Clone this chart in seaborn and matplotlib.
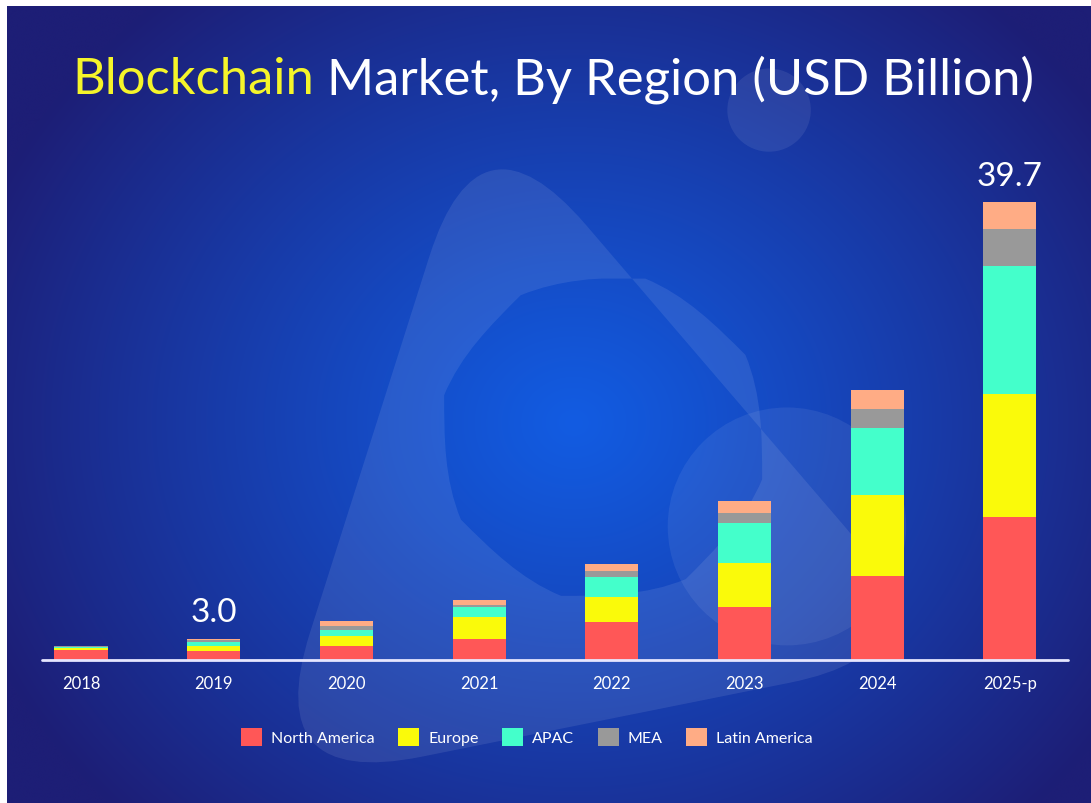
import numpy as np
import pandas as pd
import matplotlib
matplotlib.use("Agg")
import matplotlib.pyplot as plt
import seaborn as sns
from matplotlib.patches import Patch, PathPatch, Circle
from matplotlib.path import Path

# Data (USD billion)
years = ['2018', '2019', '2020', '2021', '2022', '2023', '2024', '2025-p']
north_america = [0.86, 0.75, 1.13, 1.80, 3.23, 4.56, 7.22, 12.35]
europe = [0.15, 0.40, 0.90, 1.88, 2.17, 3.85, 7.06, 10.74]
apac = [0.10, 0.40, 0.49, 0.87, 1.74, 3.47, 5.79, 11.05]
mea = [0.05, 0.10, 0.43, 0.20, 0.52, 0.82, 1.68, 3.25]
latin_america = [0.05, 0.17, 0.38, 0.43, 0.66, 1.07, 1.62, 2.31]
regions = ['North America', 'Europe', 'APAC', 'MEA', 'Latin America']
callouts = {'2019': '3.0', '2025-p': '39.7'}

colors = {'North America': '#ff5757', 'Europe': '#fafa0a', 'APAC': '#44ffcb',
          'MEA': '#999999', 'Latin America': '#ffac85'}

W, H = 1091, 804
sns.set_style('white')
plt.rcParams['font.family'] = ['Lato', 'DejaVu Sans']

fig = plt.figure(figsize=(W / 100, H / 100), dpi=100, facecolor='white')

## Background: radial blue gradient with soft decorative shapes
bg = fig.add_axes([7 / W, 0, 1 - 7 / W, 1 - 7 / H], zorder=0)
xx, yy = np.meshgrid(np.arange(W), np.arange(H))
d = np.sqrt(((xx - 570) / 640) ** 2 + ((yy - 420) / 560) ** 2)
t = np.clip(d, 0, 1) ** 1.1
center = np.array([0x12, 0x5c, 0xe2]) / 255
edge = np.array([0x1d, 0x1e, 0x76]) / 255
img = center * (1 - t[..., None]) + edge * t[..., None]
bg.imshow(img, extent=(0, W, H, 0), aspect='auto')
bg.set_xlim(0, W)
bg.set_ylim(H, 0)
bg.axis('off')


def rounded_poly(pts, r):
    pts = np.asarray(pts, float)
    n = len(pts)
    verts, codes = [], []
    for i in range(n):
        p0, p1, p2 = pts[i - 1], pts[i], pts[(i + 1) % n]
        a = p1 + (p0 - p1) / np.linalg.norm(p0 - p1) * r
        b = p1 + (p2 - p1) / np.linalg.norm(p2 - p1) * r
        verts += [a, p1, b]
        codes += [Path.MOVETO if i == 0 else Path.LINETO, Path.CURVE3, Path.CURVE3]
    verts.append(verts[0])
    codes.append(Path.CLOSEPOLY)
    return verts, codes


tv, tc = rounded_poly([(475, 95), (950, 650), (255, 790)], 165)
circ = Path.circle((600, 435), 160)
hole_v = circ.vertices[::-1]
hole_c = [Path.MOVETO] + [Path.CURVE4] * (len(hole_v) - 2) + [Path.CLOSEPOLY]
shape = Path(np.vstack([tv, hole_v]), tc + hole_c)
bg.add_patch(PathPatch(shape, facecolor='white', alpha=0.09, lw=0))
bg.add_patch(Circle((785, 525), 120, facecolor='white', alpha=0.07, lw=0))
bg.add_patch(Circle((767, 105), 42, facecolor='white', alpha=0.08, lw=0))

## Stacked bars
left = 14.65
ax = fig.add_axes([left / W, 143.5 / H, 1061.6 / W, 460.8 / H], zorder=2)
ax.set_facecolor('none')

df = pd.DataFrame({'year': years, 'North America': north_america, 'Europe': europe,
                   'APAC': apac, 'MEA': mea, 'Latin America': latin_america})
cum = df[regions].cumsum(axis=1)
for region in reversed(regions):
    sns.barplot(x=df['year'], y=cum[region], color=colors[region], width=0.4,
                saturation=1, errorbar=None, linewidth=0, order=years, ax=ax)

ax.set_xlim(-0.5, 7.5)
ax.set_ylim(0, 40)
ax.axhline(0, xmin=(42 - left) / 1061.6, xmax=(1068 - left) / 1061.6,
           color='#e6e6ff', lw=2, zorder=5, clip_on=False)
sns.despine(ax=ax, left=True, bottom=True)
ax.set_xlabel('')
ax.set_ylabel('')
ax.set_yticks([])
ax.tick_params(axis='x', length=0, pad=11, labelsize=12, labelcolor='white')

totals = cum['Latin America'].tolist()
for year, label in callouts.items():
    i = years.index(year)
    ax.text(i, totals[i] + 1.0, label, ha='center', va='bottom', color='white',
            fontsize=24)

## Title in two colours
renderer = fig.canvas.get_renderer()
t1 = fig.text(0, 0, 'Blockchain', fontsize=36.5, color='#f5f52a', va='center')
t2 = fig.text(0, 0, ' Market, By Region (USD Billion)', fontsize=36.5, color='white',
              va='center')
w1 = t1.get_window_extent(renderer).width
w2 = t2.get_window_extent(renderer).width
x0 = 553 - (w1 + w2) / 2
ty = 1 - 80 / H
t1.set_position((x0 / W, ty))
t2.set_position(((x0 + w1) / W, ty))

## Legend
handles = [Patch(facecolor=colors[r], edgecolor='none', label=r) for r in regions]
fig.legend(handles=handles, loc='center', bbox_to_anchor=(527 / W, 1 - 738 / H), ncol=5,
           frameon=False, fontsize=11.5, labelcolor='white', handlelength=1.3,
           handleheight=1.3, handletextpad=0.55, columnspacing=1.5)

fig.savefig('out.png', dpi=100, facecolor='white')
